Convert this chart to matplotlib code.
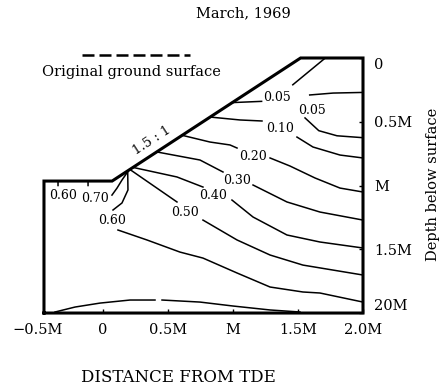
import numpy as np
import matplotlib
matplotlib.use('Agg')
import matplotlib.pyplot as plt

plt.rcParams['font.family'] = 'DejaVu Serif'

nan = np.nan

# cut profile: distance from toe (m) / depth below surface (m)
profile_x = [-0.454, -0.454, 0.07, 1.52, 2.0, 2.0, -0.454]
profile_d = [2.0, 0.965, 0.965, 0.0, 0.0, 2.0, 2.0]

# contour lines, nan = break for the label
c005a_x = [0.99, 1.22, nan, 1.46, 1.71]
c005a_d = [0.35, 0.34, nan, 0.21, 0.0]
c005b_x = [2.0, 1.77, 1.59, nan, 1.554, 1.66, 1.80, 2.0]
c005b_d = [0.27, 0.275, 0.29, nan, 0.47, 0.57, 0.61, 0.625]
c010_x = [0.823, 1.054, 1.223, nan, 1.492, 1.615, 1.823, 2.0]
c010_d = [0.463, 0.486, 0.494, nan, 0.62, 0.698, 0.761, 0.784]
c020_x = [0.608, 0.823, 0.977, 1.031, nan, 1.285, 1.438, 1.631, 1.823, 2.0]
c020_d = [0.606, 0.659, 0.682, 0.706, nan, 0.784, 0.847, 0.941, 1.02, 1.051]
c030_x = [0.415, 0.746, 0.923, nan, 1.154, 1.415, 1.669, 2.0]
c030_d = [0.737, 0.80, 0.894, nan, 0.996, 1.129, 1.208, 1.271]
c040_x = [0.231, 0.569, 0.769, nan, 0.992, 1.154, 1.415, 1.669, 2.0]
c040_d = [0.858, 0.933, 1.012, nan, 1.114, 1.247, 1.388, 1.443, 1.49]
c050_x = [0.208, 0.569, nan, 0.769, 1.031, 1.285, 1.538, 2.0]
c050_d = [0.875, 1.129, nan, 1.271, 1.427, 1.545, 1.624, 1.702]
c060_x = [-0.346, -0.346, nan, 0.19, 0.192, 0.146, 0.077, nan,
          0.115, 0.338, 0.592, 0.769, 1.031, 1.285, 1.538, 1.669, 2.0]
c060_d = [0.965, 1.0, nan, 0.885, 1.035, 1.137, 1.192, nan,
          1.349, 1.427, 1.522, 1.569, 1.686, 1.796, 1.835, 1.843, 1.914]
c070_x = [-0.115, -0.115, nan, 0.069, 0.108, 0.146, 0.20]
c070_d = [0.965, 1.0, nan, 1.075, 1.02, 0.957, 0.878]
c_bot_x = [-0.369, -0.215, -0.023, 0.208, 0.40, nan, 0.454, 0.746, 1.0, 1.285, 1.515]
c_bot_d = [1.992, 1.953, 1.922, 1.898, 1.898, nan, 1.898, 1.914, 1.945, 1.976, 1.992]

contours_x = [c005a_x, c005b_x, c010_x, c020_x, c030_x, c040_x, c050_x, c060_x, c070_x, c_bot_x]
contours_d = [c005a_d, c005b_d, c010_d, c020_d, c030_d, c040_d, c050_d, c060_d, c070_d, c_bot_d]

label_text = ['0.05', '0.05', '0.10', '0.20', '0.30', '0.40', '0.50', '0.60', '0.70', '0.60']
label_x = [1.34, 1.61, 1.362, 1.154, 1.031, 0.846, 0.631, 0.069, -0.06, -0.308]
label_d = [0.31, 0.408, 0.549, 0.776, 0.957, 1.075, 1.208, 1.271, 1.10, 1.075]

xticks = [-0.5, 0, 0.5, 1.0, 1.5, 2.0]
xticklabels = ['\u22120.5M', '0', '0.5M', 'M', '1.5M', '2.0M']
yticks = [0, 0.5, 1.0, 1.5, 2.0]
yticklabels = ['0', '0.5M', 'M', '1.5M', '20M']

fig = plt.figure(figsize=(4.44, 3.89), dpi=100)
ax = fig.add_axes([38 / 444, 0.1789, 331.5 / 444, 0.6884])
ax.set_xlim(-0.5, 2.05)
ax.set_ylim(2.05, -0.05)

ax.plot(profile_x, profile_d, color='black', lw=2.2, solid_joinstyle='miter')
for cx, cd in zip(contours_x, contours_d):
    ax.plot(cx, cd, color='black', lw=1.1)
for t, lx, ld in zip(label_text, label_x, label_d):
    ax.text(lx, ld, t, ha='center', va='center', fontsize=9)

# original ground surface
ax.plot([-0.162, 0.669], [-0.024, -0.024], color='black', lw=1.8,
        dashes=(4.8, 2), clip_on=False)
ax.text(-0.469, 0.11, 'Original ground surface', ha='left', va='center', fontsize=10.5)
ax.text(0.377, 0.651, '1.5 : 1', ha='center', va='center', fontsize=9.5, rotation=33)

for s in ['left', 'top']:
    ax.spines[s].set_visible(False)
ax.spines['bottom'].set_position(('data', 2.0))
ax.spines['right'].set_position(('data', 2.0))
ax.spines['bottom'].set_visible(False)
ax.spines['right'].set_visible(False)

ax.xaxis.set_ticks_position('bottom')
ax.yaxis.set_ticks_position('right')
ax.set_xticks(xticks)
ax.set_xticklabels(xticklabels)
ax.set_yticks(yticks)
ax.set_yticklabels(yticklabels)
ax.tick_params(axis='x', direction='in', length=3, width=1, pad=7, labelsize=10.5)
ax.tick_params(axis='y', direction='in', length=3, width=1, pad=8, labelsize=10.5,
               labelright=True, labelleft=False)
ax.xaxis.get_major_ticks()[0].tick1line.set_visible(False)
yt = ax.yaxis.get_major_ticks()
yt[0].label2.set_va('top')
yt[-1].label2.set_va('bottom')

fig.text(243 / 444, 1 - 13 / 389, 'March, 1969', ha='center', va='center', fontsize=10.5)
fig.text(433 / 444, 1 - 184 / 389, 'Depth below surface', ha='center', va='center',
         rotation=90, fontsize=10.5)
fig.text(178 / 444, 1 - 378 / 389, 'DISTANCE FROM TDE', ha='center', va='center', fontsize=12)

fig.savefig('out.png', dpi=100)
